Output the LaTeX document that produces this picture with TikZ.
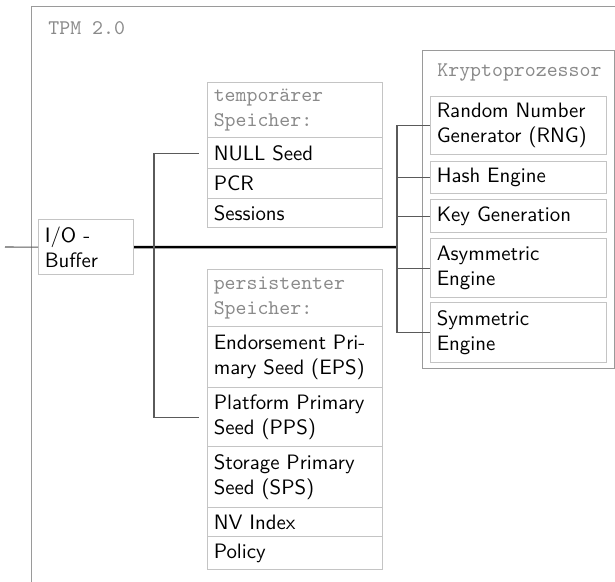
\documentclass[tikz,border=0pt]{standalone}
\usepackage{fontspec}
\definecolor{outergray}{HTML}{9A9A9A}
\definecolor{boxgray}{HTML}{C4C4C4}
\definecolor{txtgray}{HTML}{8A8A8A}
\definecolor{conngray}{HTML}{5A5A5A}
\begin{document}
\begin{tikzpicture}[x=0.48pt,y=-0.48pt,
  item/.style={draw=boxgray, line width=0.5pt, anchor=north west, inner xsep=3pt, inner ysep=0pt,
    align=left, font=\sffamily\fontsize{10}{12}\selectfont},
  midbox/.style={item, minimum width=84pt, text width=78pt},
  krbox/.style={item, minimum width=84.48pt, text width=78.48pt},
  hdrfont/.style={font=\ttfamily\fontsize{10}{12}\selectfont, text=txtgray},
  frame/.style={draw=outergray, line width=0.5pt, anchor=north west, inner sep=0pt},
  conn/.style={draw=conngray, line width=0.5pt},
  bus/.style={draw=black, line width=1.2pt}]
\useasboundingbox (0,0) rectangle (615,581);
\clip (0,0) rectangle (615,581);
% outer TPM frame (extends past the picture)
\node[frame, minimum width=321pt, minimum height=400pt] (tpm) at (31,6) {};
\node[hdrfont, anchor=west, inner sep=0pt] (tpmlabel) at (48,28) {TPM 2.0};
% I/O buffer
\node[item, minimum width=45.6pt, text width=39.6pt, minimum height=26.4pt] (io) at (38,219) {I/O -\\Buffer};
% temporary memory
\node[midbox, hdrfont, minimum height=26.4pt] (temph) at (207,82) {temporärer\\Speicher:};
\node[midbox, minimum height=14.88pt] (null) at (207,137) {NULL Seed};
\node[midbox, minimum height=14.4pt] (pcr) at (207,168) {PCR};
\node[midbox, minimum height=13.92pt] (sess) at (207,198) {Sessions};
% persistent memory
\node[midbox, hdrfont, minimum height=27.36pt] (persh) at (207,269) {persistenter\\Speicher:};
\node[midbox, minimum height=29.28pt] (eps) at (207,326) {Endorsement Pri-\\mary Seed (EPS)};
\node[midbox, minimum height=28.32pt] (pps) at (207,387) {Platform Primary\\Seed (PPS)};
\node[midbox, minimum height=29.28pt] (sps) at (207,446) {Storage Primary\\Seed (SPS)};
\node[midbox, minimum height=13.92pt] (nv) at (207,507) {NV Index};
\node[midbox, minimum height=15.84pt] (pol) at (207,536) {Policy};
% crypto processor
\node[frame, minimum width=92.16pt, minimum height=152.64pt] (krypto) at (422,50) {};
\node[hdrfont, anchor=west, inner sep=0pt] (krylabel) at (437,73) {Kryptoprozessor};
\node[krbox, minimum height=27.84pt] (rng) at (430,96) {Random Number\\Generator (RNG)};
\node[krbox, minimum height=15.36pt] (hash) at (430,161) {Hash Engine};
\node[krbox, minimum height=15.84pt] (key) at (430,199) {Key Generation};
\node[krbox, minimum height=28.32pt] (asym) at (430,238) {Asymmetric\\Engine};
\node[krbox, minimum height=28.8pt] (sym) at (430,302) {Symmetric\\Engine};
% connectors
\coordinate (inend) at (5,247);
\coordinate (lj) at (154,247);
\coordinate (rj) at (397,247);
\draw[conn] (inend) -- (io.west);
\draw[bus] (io.east) -- (rj);
\draw[conn, shorten >=3.84pt] (lj) |- (null.west);
\draw[conn, shorten >=3.84pt] (lj) |- (pps.west);
\draw[conn] (rj) |- (rng.west);
\draw[conn] (rj) |- (hash.west);
\draw[conn] (rj) |- (key.west);
\draw[conn] (rj) |- (asym.west);
\draw[conn] (rj) |- (sym.west);
\end{tikzpicture}
\end{document}
